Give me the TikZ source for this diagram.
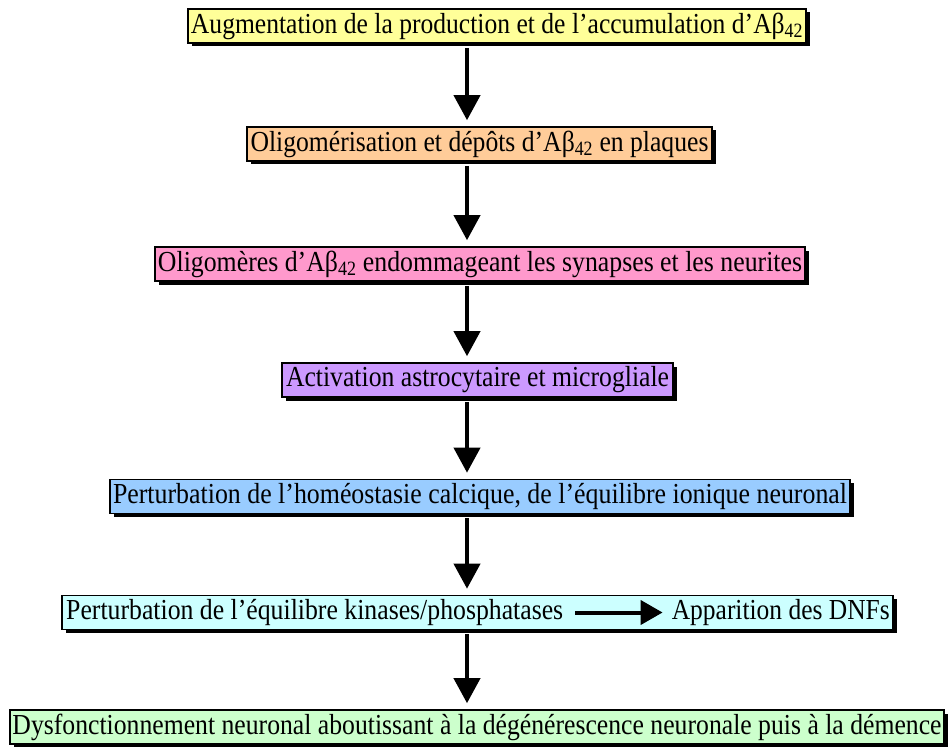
\documentclass[tikz,border=0pt]{standalone}
\usepackage{fontspec}
\setmainfont{Liberation Serif}
\usetikzlibrary{arrows.meta,calc}
\definecolor{cyellow}{HTML}{FFFF99}
\definecolor{corange}{HTML}{FFCC99}
\definecolor{cpink}{HTML}{FF99CC}
\definecolor{cpurple}{HTML}{CC99FF}
\definecolor{cblue}{HTML}{99CCFF}
\definecolor{ccyan}{HTML}{CCFFFF}
\definecolor{cgreen}{HTML}{CCFFCC}
\tikzset{
  stepbox/.style={draw=black, line width=1.6pt, inner sep=0pt, minimum height=34pt,
    font=\fontsize{29}{31}\selectfont, text=black},
  plain/.style={font=\fontsize{29}{31}\selectfont, text=black, inner sep=0pt},
  conn/.style={line width=4pt, -{Triangle[width=26pt,length=25pt]}, shorten <=4pt, shorten >=6pt}
}
\newcommand{\Abeta}{Aβ\textsubscript{42}}
\newcommand{\fitw}[2]{\resizebox{#1}{\height}{#2}}
\begin{document}
\begin{tikzpicture}[x=1pt,y=-1pt]
\useasboundingbox (0,0) rectangle (949,746);
% shadows
\foreach \cx/\cy/\w in {497/26/618, 479.5/144/465, 480/264/650, 477.5/380/391, 480/496.5/740, 477.5/612.5/831, 477/727/934}{
  \fill[black] (\cx-\w/2+3.5,\cy-17+3.5) rectangle (\cx+\w/2+3.5,\cy+17+3.5);
}
\node[stepbox, fill=cyellow, minimum width=618pt] (b1) at (497,26) {\fitw{612pt}{Augmentation de la production et de l’accumulation d’\Abeta}};
\node[stepbox, fill=corange, minimum width=465pt] (b2) at (479.5,144) {\fitw{458pt}{Oligomérisation et dépôts d’\Abeta{} en plaques}};
\node[stepbox, fill=cpink, minimum width=650pt] (b3) at (480,264) {\fitw{644pt}{Oligomères d’\Abeta{} endommageant les synapses et les neurites}};
\node[stepbox, fill=cpurple, minimum width=391pt] (b4) at (477.5,380) {\fitw{383pt}{Activation astrocytaire et microgliale}};
\node[stepbox, fill=cblue, minimum width=740pt] (b5) at (480,496.5) {\fitw{734pt}{Perturbation de l’homéostasie calcique, de l’équilibre ionique neuronal}};
\node[stepbox, fill=ccyan, minimum width=831pt] (b6) at (477.5,612.5) {};
\node[plain, anchor=west] (t6a) at (66,612.5) {\fitw{497pt}{Perturbation de l’équilibre kinases/phosphatases}};
\node[plain, anchor=east] (t6b) at (890,612.5) {\fitw{218pt}{Apparition des DNFs}};
\node[stepbox, fill=cgreen, minimum width=934pt] (b7) at (477,727) {\fitw{929pt}{Dysfonctionnement neuronal aboutissant à la dégénérescence neuronale puis à la démence}};
\coordinate (ax) at (467,0);
\draw[conn] (b1.south -| ax) -- (b2.north -| ax);
\draw[conn] (b2.south -| ax) -- (b3.north -| ax);
\draw[conn] (b3.south -| ax) -- (b4.north -| ax);
\draw[conn] (b4.south -| ax) -- (b5.north -| ax);
\draw[conn] (b5.south -| ax) -- (b6.north -| ax);
\draw[conn] (b6.south -| ax) -- (b7.north -| ax);
\draw[line width=4pt, -{Triangle[width=24pt,length=22pt]}, shorten <=12pt, shorten >=9pt] (t6a.east) -- (t6b.west);
\end{tikzpicture}
\end{document}
